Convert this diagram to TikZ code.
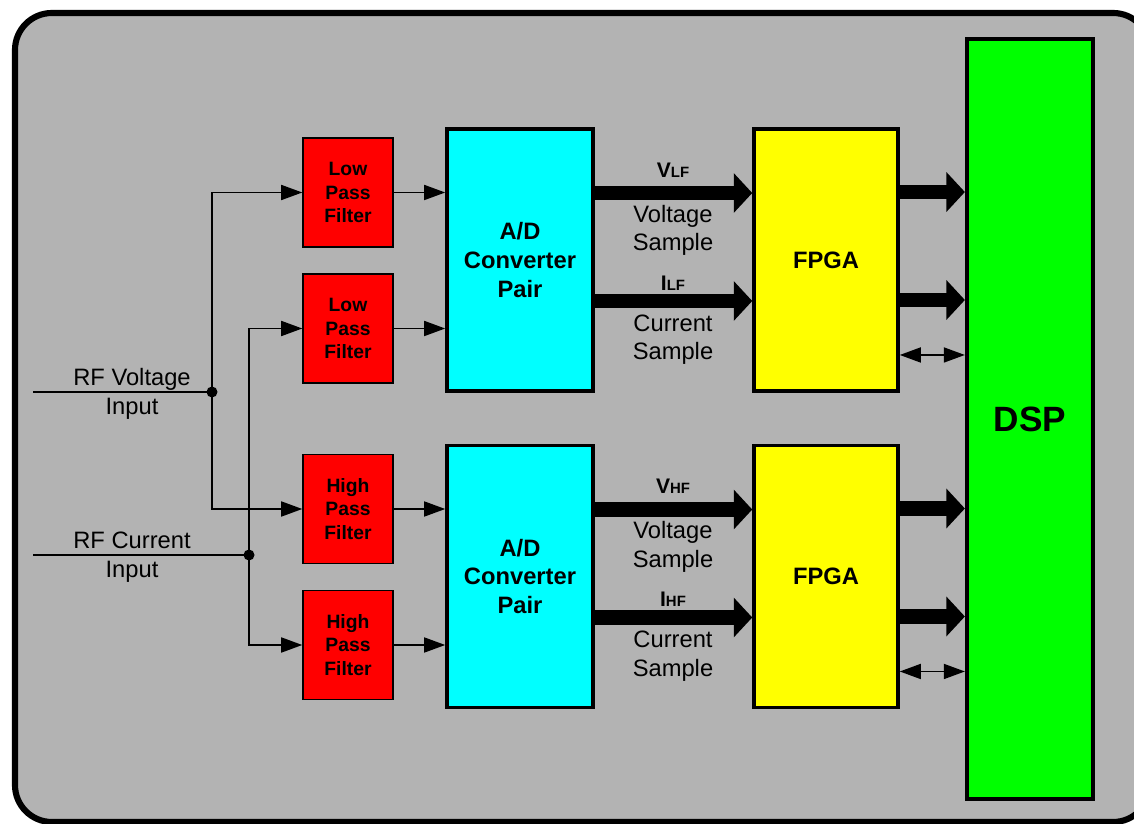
\documentclass[tikz,border=0pt]{standalone}
\usepackage{fontspec}
\setmainfont{Liberation Sans}
\usetikzlibrary{arrows.meta,positioning,calc}
\definecolor{panel}{HTML}{B3B3B3}
\definecolor{filtred}{HTML}{FF0000}
\definecolor{adccyan}{HTML}{00FFFF}
\definecolor{fpgayel}{HTML}{FFFF00}
\definecolor{dspgreen}{HTML}{00FF00}

\begin{document}
\begin{tikzpicture}[x=0.02cm,y=-0.02cm,
  filt/.style={draw,line width=0.8pt,fill=filtred,minimum width=1.8cm,minimum height=2.18cm,inner sep=0,align=center,font=\fontsize{11}{13.6}\selectfont\bfseries},
  conv/.style={draw,line width=2pt,fill=adccyan,minimum width=2.92cm,minimum height=5.24cm,inner sep=0,align=center,font=\fontsize{13.5}{16.4}\selectfont\bfseries},
  fpga/.style={conv,fill=fpgayel,minimum width=2.88cm},
  txt/.style={inner sep=0,align=center,font=\fontsize{13.5}{16.2}\selectfont},
  sig/.style={inner sep=0,font=\fontsize{12}{14}\selectfont\bfseries},
  wire/.style={line width=1.1pt},
  ar/.style={wire,-{Triangle[length=12pt,width=8.5pt]}},
  bus/.style={line width=8pt,-{Triangle[length=10.5pt,width=22pt]}},
  dar/.style={wire,{Triangle[length=12pt,width=8.5pt]}-{Triangle[length=12pt,width=8.5pt]}},
  dot/.style={circle,fill,inner sep=0,minimum size=2.2mm}]
\useasboundingbox (0,0) rectangle (1134,824);
\draw[line width=3.5pt,fill=panel,rounded corners=21pt] (15,13) rectangle (1150,822);

\node[draw,line width=2.4pt,fill=dspgreen,minimum width=2.52cm,minimum height=15.2cm,inner sep=0,font=\fontsize{20}{24}\selectfont\bfseries] (dsp) at (1030,419) {DSP};

% two channels: low band on top, high band below
\foreach \k/\dy/\pass/\band in {1/0/Low/LF,2/316.5/High/HF}{
  \node[filt] (fa\k) at (348,192.5+\dy) {\pass\\Pass\\Filter};
  \node[filt] (fb\k) at (348,328.5+\dy) {\pass\\Pass\\Filter};
  \node[conv] (ad\k) at (520,260+\dy) {A/D\\Converter\\Pair};
  \node[fpga] (fp\k) at (826,260+\dy) {FPGA};
  \draw[ar] (fa\k.east) -- (fa\k.east -| ad\k.west);
  \draw[ar] (fb\k.east) -- (fb\k.east -| ad\k.west);
  \draw[bus] ([yshift=1.34cm]ad\k.east) -- ([yshift=1.34cm]fp\k.west);
  \draw[bus] ([yshift=-0.82cm]ad\k.east) -- ([yshift=-0.82cm]fp\k.west);
  \node[sig] (v\k) at (673,170+\dy) {V{\fontsize{8.5}{10}\selectfont\band}};
  \node[txt] (vs\k) at (673,230.5+\dy) {Voltage\\Sample};
  \node[sig] (i\k) at (673,283+\dy) {I{\fontsize{8.5}{10}\selectfont\band}};
  \node[txt] (is\k) at (673,339.5+\dy) {Current\\Sample};
  \draw[bus] ([yshift=1.36cm]fp\k.east) -- ([yshift=1.36cm]fp\k.east -| dsp.west);
  \draw[bus] ([yshift=-0.8cm]fp\k.east) -- ([yshift=-0.8cm]fp\k.east -| dsp.west);
  \draw[dar] ([yshift=-1.9cm]fp\k.east) -- ([yshift=-1.9cm]fp\k.east -| dsp.west);
}

% inputs
\coordinate (vin) at (33,392);
\coordinate (iin) at (33,555);
\node[dot] (j1) at (212,392) {};
\node[dot] (j2) at (249,555) {};
\draw[wire] (vin) -- (j1.center);
\draw[wire] (iin) -- (j2.center);
\draw[ar] (j1.center) |- (fa1.west);
\draw[ar] (j1.center) |- (fa2.west);
\draw[ar] (j2.center) |- (fb1.west);
\draw[ar] (j2.center) |- (fb2.west);
\node[txt] (vlab) at (132,394) {RF Voltage\\Input};
\node[txt] (ilab) at (132,557) {RF Current\\Input};
\end{tikzpicture}
\end{document}
